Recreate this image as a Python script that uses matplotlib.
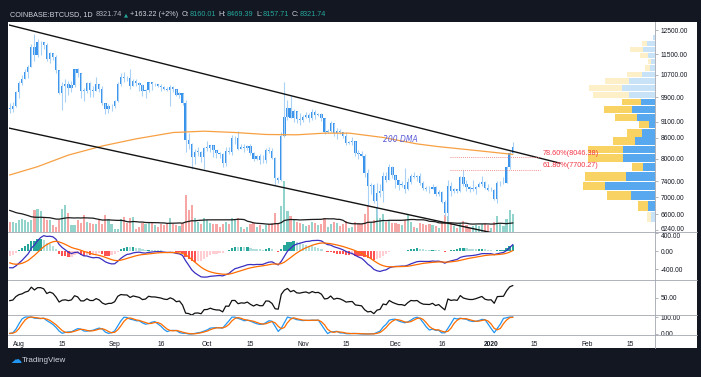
import numpy as np
import pandas as pd
import matplotlib
matplotlib.use("Agg")
import matplotlib.pyplot as plt
import matplotlib.dates as mdates
import matplotlib.transforms as mtransforms
from matplotlib import font_manager
from matplotlib.lines import Line2D
from matplotlib.patches import Rectangle
from matplotlib.ticker import NullLocator

try:
    font_manager.findfont("Liberation Sans Narrow", fallback_to_default=False)
    base_font = "Liberation Sans Narrow"
except ValueError:
    base_font = "Liberation Sans"
plt.rcParams['font.family'] = [base_font, 'DejaVu Sans']

# ---------------- data (COINBASE:BTCUSD daily) ----------------
dates = pd.date_range("2019-07-29", "2020-01-08", freq="D")

closes = [
    9510, 9590, 10090,
    10400, 10530, 10820, 10980, 11800, 11470, 11980, 11990, 11860, 11290, 11550, 11390, 10880, 10030, 10300, 10360,
    10220, 10320, 10920, 10760, 10130, 10120, 10410, 10140, 10130, 10370, 10180, 9720, 9490, 9590, 9600,
    9760, 10380, 10620, 10580, 10570, 10310, 10480, 10400, 10330, 10110, 10160, 10420, 10360, 10360, 10310,
    10270, 10190, 10160, 10270, 10180, 9990, 10030, 9700, 8530, 8430, 8060, 8190, 8200, 8040, 8300,
    8310, 8390, 8230, 8150, 8130, 7870, 8210, 8190, 8590, 8590, 8270, 8330, 8300, 8370, 8160, 7990,
    8080, 7960, 7960, 8230, 8220, 8030, 7470, 7420, 8660, 9250, 9550, 9220, 9430, 9180, 9150,
    9250, 9310, 9200, 9400, 9310, 9340, 9200, 8770, 8810, 9040, 8730, 8820, 8770, 8640, 8460,
    8490, 8500, 8170, 8120, 8080, 7610, 7270, 7300, 6900, 7110, 7160, 7520, 7430, 7760, 7560,
    7420, 7300, 7300, 7200, 7390, 7540, 7510, 7530, 7340, 7220, 7200, 7190, 7250, 7070, 7120, 6880,
    6620, 7280, 7150, 7190, 7150, 7510, 7320, 7250, 7200, 7200, 7250, 7320, 7390, 7220, 7170,
    7180, 6950, 7340, 7350, 7360, 7760, 8160.01, 8321.74,
]
highs = [
    9720, 9730, 10120,
    10470, 10680, 10930, 11080, 11900, 12320, 12120, 12050, 12000, 11940, 11600, 11550, 11450, 10880, 10450, 10530,
    10460, 10490, 10930, 10950, 10770, 10230, 10440, 10420, 10300, 10620, 10380, 10280, 9720, 9680, 9680,
    9800, 10450, 10780, 10800, 10640, 10900, 10560, 10560, 10440, 10380, 10200, 10450, 10440, 10400, 10380,
    10370, 10280, 10270, 10340, 10280, 10180, 10090, 10040, 9790, 8730, 8460, 8280, 8320, 8220, 8340,
    8500, 8400, 8400, 8240, 8200, 8160, 8330, 8340, 8680, 8650, 8800, 8430, 8420, 8400, 8410, 8180,
    8110, 8120, 8100, 8300, 8330, 8310, 8040, 7500, 8780, 10450, 9800, 9940, 9500, 9430, 9380,
    9300, 9390, 9370, 9520, 9460, 9380, 9360, 9220, 8870, 9110, 9060, 8890, 8860, 8790, 8760,
    8520, 8630, 8500, 8240, 8220, 8120, 7720, 7360, 7330, 7360, 7320, 7650, 7640, 7860, 7810,
    7570, 7430, 7400, 7750, 7480, 7580, 7630, 7560, 7620, 7400, 7270, 7270, 7320, 7280, 7180, 7140,
    6940, 7440, 7370, 7220, 7200, 7520, 7690, 7440, 7270, 7430, 7270, 7370, 7520, 7410, 7330,
    7250, 7210, 7400, 7400, 7500, 7790, 8220, 8469.39,
]
lows = [
    9380, 9390, 9560,
    9880, 10340, 10530, 10570, 10980, 11220, 11400, 11480, 11690, 11220, 11140, 11250, 10770, 10000, 9470, 9730,
    9960, 10090, 10260, 10620, 9860, 9780, 10060, 9910, 9900, 10130, 10070, 9630, 9330, 9380, 9440,
    9540, 9750, 10310, 10430, 10470, 10180, 10300, 10280, 10100, 9950, 9860, 10080, 10160, 10300, 10270,
    10120, 10150, 10130, 9620, 10090, 9940, 9880, 9640, 8200, 8270, 7730, 7860, 8070, 7920, 7710,
    8210, 8180, 8060, 8020, 8010, 7780, 7790, 8120, 8100, 8430, 8250, 8260, 8180, 8240, 8090, 7930,
    7950, 7840, 7880, 7880, 8150, 7990, 7300, 7360, 7400, 8620, 9150, 9200, 9090, 9060, 8990,
    9080, 9220, 9080, 9140, 9180, 9260, 9120, 8700, 8740, 8760, 8640, 8570, 8720, 8580, 8380,
    8410, 8400, 8080, 8000, 8050, 7500, 6800, 7070, 6870, 6530, 7010, 6880, 7380, 7420, 7480,
    7220, 7170, 7240, 7100, 7170, 7330, 7490, 7400, 7300, 7170, 7150, 7100, 7190, 7030, 7020, 6850,
    6560, 6450, 7040, 7100, 7100, 7130, 7270, 7150, 7130, 7160, 7070, 7240, 7280, 7200, 7150,
    7150, 6930, 6870, 7270, 7320, 7350, 7730, 8157.71,
]
# July closes, used only to warm up MACD / RSI
pre_closes = [10590, 10820, 11980, 11140, 10980, 11210, 11480, 12300, 12570, 12100, 11340, 11800, 11390, 10250,
              10880, 9480, 9690, 10640, 10530, 10760, 10590, 10320, 9850, 9770, 9880, 9850, 9480, 9530]

volume = [
    10, 10, 9,
    12, 13, 12, 10, 12, 22, 23, 21, 15, 12, 12, 7, 5, 12, 23, 27, 19, 7, 7, 12, 9, 17, 10, 9, 8, 8, 12, 8, 17, 13, 8,
    3, 3, 13, 15, 9, 14, 15, 3, 5, 9, 8, 9, 10, 7, 5, 8, 7, 9, 14, 8, 7, 6, 9, 37, 22, 27, 14, 10, 8, 14,
    12, 9, 8, 8, 5, 8, 10, 8, 14, 12, 14, 5, 3, 5, 8, 9, 5, 7, 3, 7, 8, 9, 19, 8, 26, 51, 21, 16, 12, 10, 9,
    8, 6, 7, 10, 9, 7, 8, 14, 5, 8, 10, 9, 6, 8, 11, 4, 5, 10, 9, 8, 18, 27, 10, 12, 25, 14, 18, 10, 12, 9,
    9, 8, 7, 12, 17, 10, 5, 4, 9, 8, 7, 8, 7, 6, 4, 10, 17, 16, 10, 6, 4, 9, 11, 7, 4, 6, 7, 6, 8, 9, 7,
    4, 10, 16, 8, 6, 13, 22, 18,
]
pre_volume = [28, 30, 32, 26, 24, 30, 28, 34, 30, 26, 20, 18, 16, 15, 20, 18, 14, 12, 16, 12]

# 200-day moving average, read at a few dates
dma_dates = ["2019-07-29", "2019-08-07", "2019-08-17", "2019-08-28", "2019-09-08", "2019-09-20", "2019-09-30",
             "2019-10-10", "2019-10-20", "2019-10-30", "2019-11-08", "2019-11-16", "2019-11-27", "2019-12-08",
             "2019-12-15", "2019-12-26", "2020-01-08"]
dma_values = [7560, 7780, 8100, 8360, 8570, 8760, 8800, 8760, 8700, 8690, 8740, 8740, 8610, 8420, 8340, 8240, 8120]

# channel trend lines (anchor time, anchor price)
upper_line_t = ["2019-07-28 18:00", "2020-01-23 07:00"]
upper_line_p = [12720, 7876]
lower_line_t = ["2019-07-28 18:00", "2019-12-31 15:00"]
lower_line_p = [8895, 6196]

# fib retracement levels
fib_labels = ["78.60%(8046.38)", "61.80%(7700.27)"]
fib_prices = [8046.38, 7700.27]
fib_t = ["2019-12-18 16:00", "2020-01-16 20:00"]

# visible-range volume profile (24 rows, bottom to top)
vp_low, vp_high = 6430, 12320
vp_total = [8.3, 17.3, 47.7, 72, 70, 23.3, 67, 67, 41.7, 27.7, 15.7, 40, 51, 33.3, 62, 66, 50, 28.3, 10, 6.7,
            15, 25, 13.3, 2.3]
vp_up = [4.3, 7.3, 24.3, 50, 29, 11.7, 31.7, 31.7, 20, 13.3, 5.7, 18.3, 23.3, 14.3, 25.7, 33.3, 25.7, 13.3, 5,
         4.3, 6.7, 11.7, 8.3, 2.3]
vp_value_area = [False] + [True] * 13 + [False] * 10

price_ticks = [12500, 11500, 10700, 9900, 9100, 8600, 8000, 7400, 7000, 6600, 6240]
tick_dates = ["2019-08-01", "2019-08-15", "2019-09-01", "2019-09-16", "2019-10-01", "2019-10-15", "2019-11-01",
              "2019-11-15", "2019-12-01", "2019-12-16", "2020-01-01", "2020-01-15", "2020-02-01", "2020-02-15"]
tick_labels = ["Aug", "15", "Sep", "16", "Oct", "15", "Nov", "15", "Dec", "16", "2020", "15", "Feb", "15"]

# ---------------- derived ----------------
t = mdates.date2num(dates.to_pydatetime())
closes = np.array(closes, float)
highs = np.array(highs, float)
lows = np.array(lows, float)
opens = np.r_[pre_closes[-1], closes[:-1]]
n = len(t)

all_close = pd.Series(pre_closes + list(closes))
ema12 = all_close.ewm(span=12, adjust=False).mean()
ema26 = all_close.ewm(span=26, adjust=False).mean()
macd = ema12 - ema26
signal = macd.ewm(span=9, adjust=False).mean()
hist = (macd - signal).values[-n - 1:]
macd = macd.values[-n:]
signal = signal.values[-n:]

delta = all_close.diff()
gain = delta.clip(lower=0).ewm(alpha=1 / 14, adjust=False).mean()
loss = (-delta.clip(upper=0)).ewm(alpha=1 / 14, adjust=False).mean()
rsi = 100 - 100 / (1 + gain / loss)
rmin = rsi.rolling(14, min_periods=1).min()
rmax = rsi.rolling(14, min_periods=1).max()
stoch = 100 * (rsi - rmin) / (rmax - rmin)
k = stoch.rolling(3, min_periods=1).mean()
d = k.rolling(3, min_periods=1).mean()
rsi = rsi.values[-n:]
k = k.values[-n:]
d = d.values[-n:]

vol_all = pd.Series(pre_volume + volume, dtype=float)
vol_ma = vol_all.rolling(20, min_periods=1).mean().values[-n:]
volume = np.array(volume, float)

# ---------------- layout ----------------
W, H = 701, 377
fig = plt.figure(figsize=(W / 100, H / 100), dpi=100)
fig.patch.set_facecolor("#131722")


def box(x0, y0, x1, y1):
    return [x0 / W, 1 - y1 / H, (x1 - x0) / W, (y1 - y0) / H]


fig.patches.append(Rectangle((8 / W, 1 - 348 / H), 689 / W, 326 / H, transform=fig.transFigure,
                             facecolor="white", edgecolor="none", zorder=-5))

aug1 = mdates.date2num(pd.Timestamp("2019-08-01"))
xlim = (aug1 - 3.24, aug1 + 206.1)
ylim_main = (6203, 12852)

ax_vol = fig.add_axes(box(9, 22, 655, 232))
ax_vp = fig.add_axes(box(9, 22, 655, 232))
ax = fig.add_axes(box(9, 22, 655, 232))
ax_macd = fig.add_axes(box(9, 232, 655, 280))
ax_rsi = fig.add_axes(box(9, 280, 655, 315))
ax_st = fig.add_axes(box(9, 315, 655, 335))
ax_vol.set_zorder(0)
ax_vp.set_zorder(0.5)
ax.set_zorder(1)

for a in (ax_vol, ax_vp, ax, ax_macd, ax_rsi, ax_st):
    a.patch.set_visible(False)
    for s in a.spines.values():
        s.set_visible(False)
    a.set_xlim(*xlim)
    a.tick_params(axis="x", length=0, labelbottom=False)
    a.yaxis.tick_right()
    a.tick_params(axis="y", direction="out", length=2, width=0.5, color="#9598a1",
                  labelsize=4.8, labelcolor="#131722", pad=2)

# volume overlay
vcol = np.where(closes >= opens, "#92d3cc", "#f6a6a4")
ax_vol.bar(t, volume, width=0.7, color=vcol, linewidth=0)
ax_vol.plot(t, vol_ma, color="#1c1c1c", lw=0.9)
ax_vol.set_ylim(0, 210)
ax_vol.set_yticks([])

# volume profile
edges = np.linspace(vp_low, vp_high, len(vp_total) + 1)
ax_vp.set_yscale("log")
ax_vp.set_ylim(*ylim_main)
ax_vp.set_xlim(646, 0)
for i in range(len(vp_total)):
    lo = edges[i]
    hgt = (edges[i + 1] - lo) * 0.9
    cb, cy = ("#58a8ef", "#f8d262") if vp_value_area[i] else ("#c8e2f8", "#fdefc8")
    ax_vp.barh(lo, vp_up[i], height=hgt, left=0, align="edge", color=cb, linewidth=0)
    ax_vp.barh(lo, vp_total[i] - vp_up[i], height=hgt, left=vp_up[i], align="edge", color=cy, linewidth=0)
ax_vp.set_yticks([])
ax_vp.yaxis.set_minor_locator(NullLocator())
ax_vp.set_xticks([])

# candles
ax.set_yscale("log")
ax.vlines(t, lows, highs, color="#a9d1f6", lw=0.8)
body_lo = np.minimum(opens, closes)
body_h = np.maximum(np.abs(closes - opens), body_lo * 0.002)
ax.bar(t, body_h, bottom=body_lo, width=0.75, color="#3792ec", linewidth=0)

ax.plot(mdates.date2num(pd.to_datetime(dma_dates).to_pydatetime()), dma_values, color="#f7a043", lw=0.9)
ax.text(mdates.date2num(pd.Timestamp("2019-11-27")), 8560, "200 DMA", color="#5b5bd8",
        fontsize=5.5, style="italic", ha="left", va="center", family=["DejaVu Sans"])

ax.plot(mdates.date2num(pd.to_datetime(upper_line_t).to_pydatetime()), upper_line_p, color="#131313", lw=1.0)
ax.plot(mdates.date2num(pd.to_datetime(lower_line_t).to_pydatetime()), lower_line_p, color="#131313", lw=1.0)

ft = mdates.date2num(pd.to_datetime(fib_t).to_pydatetime())
for lab, p in zip(fib_labels, fib_prices):
    ax.plot(ft, [p, p], color="#f26b6b", lw=0.6, ls=(0, (1, 1.5)))
    ax.text(ft[1] + 0.8, p * 1.001, lab, color="#f23645", fontsize=5.2, ha="left", va="bottom")

ax.set_ylim(*ylim_main)
ax.set_yticks(price_ticks)
ax.set_yticklabels([f"{p:.2f}" for p in price_ticks])
ax.yaxis.set_minor_locator(NullLocator())
# bottom price label sits on the pane border; nudge it up a little
ax.get_yticklabels()[-1].set_transform(ax.get_yticklabels()[-1].get_transform() +
                                       mtransforms.ScaledTranslation(0, 2 / 100, fig.dpi_scale_trans))

# MACD
hc = []
for i in range(1, n + 1):
    h, hp = hist[i], hist[i - 1]
    if h >= 0:
        hc.append("#26a69a" if h > hp else "#b2dfdb")
    else:
        hc.append("#ffcdd2" if h > hp else "#ff5252")
ax_macd.bar(t, hist[1:], width=0.75, color=hc, linewidth=0)
ax_macd.plot(t, macd, color="#3a2fc0", lw=0.9)
ax_macd.plot(t, signal, color="#ff6d00", lw=0.9)
ax_macd.set_ylim(-640, 420)
ax_macd.set_yticks([400, 0, -400])
ax_macd.set_yticklabels(["400.00", "0.00", "-400.00"])
ax_macd.get_yticklabels()[0].set_transform(ax_macd.get_yticklabels()[0].get_transform() +
                                           mtransforms.ScaledTranslation(0, -3 / 100, fig.dpi_scale_trans))

# RSI
ax_rsi.plot(t, rsi, color="#111111", lw=0.9)
ax_rsi.set_ylim(20, 80)
ax_rsi.set_yticks([50])
ax_rsi.set_yticklabels(["50.00"])

# Stoch RSI
ax_st.plot(t, k, color="#2196f3", lw=0.9)
ax_st.plot(t, d, color="#ff6d00", lw=0.9)
ax_st.set_ylim(-6, 112)
ax_st.set_yticks([100, 0])
ax_st.set_yticklabels(["100.00", "0.00"])

ax_st.set_xticks(mdates.date2num(pd.to_datetime(tick_dates).to_pydatetime()))
ax_st.set_xticklabels(tick_labels)
ax_st.tick_params(axis="x", labelbottom=True, labelsize=4.8, labelcolor="#131722", pad=4)
for lab in ax_st.get_xticklabels():
    if lab.get_text() == "2020":
        lab.set_fontweight("bold")

# pane separators and price-scale border
for yy in (232, 280, 315, 335):
    fig.add_artist(Line2D([8 / W, 697 / W], [1 - yy / H] * 2, color="#a3a6af", lw=0.6))
fig.add_artist(Line2D([655 / W] * 2, [1 - 22 / H, 1 - 348 / H], color="#a3a6af", lw=0.6))

# header, laid out left to right
renderer = fig.canvas.get_renderer()
hy = 1 - 15 / H
pieces = [("COINBASE:BTCUSD, 1D", "#d1d4dc", 3), ("8321.74", "#b2b5be", 2), ("\u25b2", "#26a69a", 2),
          ("+163.22 (+2%)", "#d1d4dc", 3), ("O:", "#d1d4dc", 0.5), ("8160.01", "#26a69a", 3),
          ("H:", "#d1d4dc", 0.5), ("8469.39", "#26a69a", 3), ("L:", "#d1d4dc", 0.5),
          ("8157.71", "#26a69a", 3), ("C:", "#d1d4dc", 0.5), ("8321.74", "#26a69a", 0)]
x = 10.0
for s, c, gap in pieces:
    if s == "\u25b2":
        txt = fig.text(x / W, hy, s, color=c, fontsize=3.8, va="center", ha="left", family=["DejaVu Sans"])
    else:
        txt = fig.text(x / W, hy, s, color=c, fontsize=5.2, va="center", ha="left")
    x += txt.get_window_extent(renderer).width + gap

# footer logo
fig.text(10 / W, 1 - 360 / H, "\u2601", color="#2196f3", fontsize=8, va="center", family=["DejaVu Sans"])
fig.text(22 / W, 1 - 360 / H, "TradingView", color="#d1d4dc", fontsize=5.8, va="center")

fig.savefig("out.png", dpi=100, facecolor=fig.get_facecolor())
